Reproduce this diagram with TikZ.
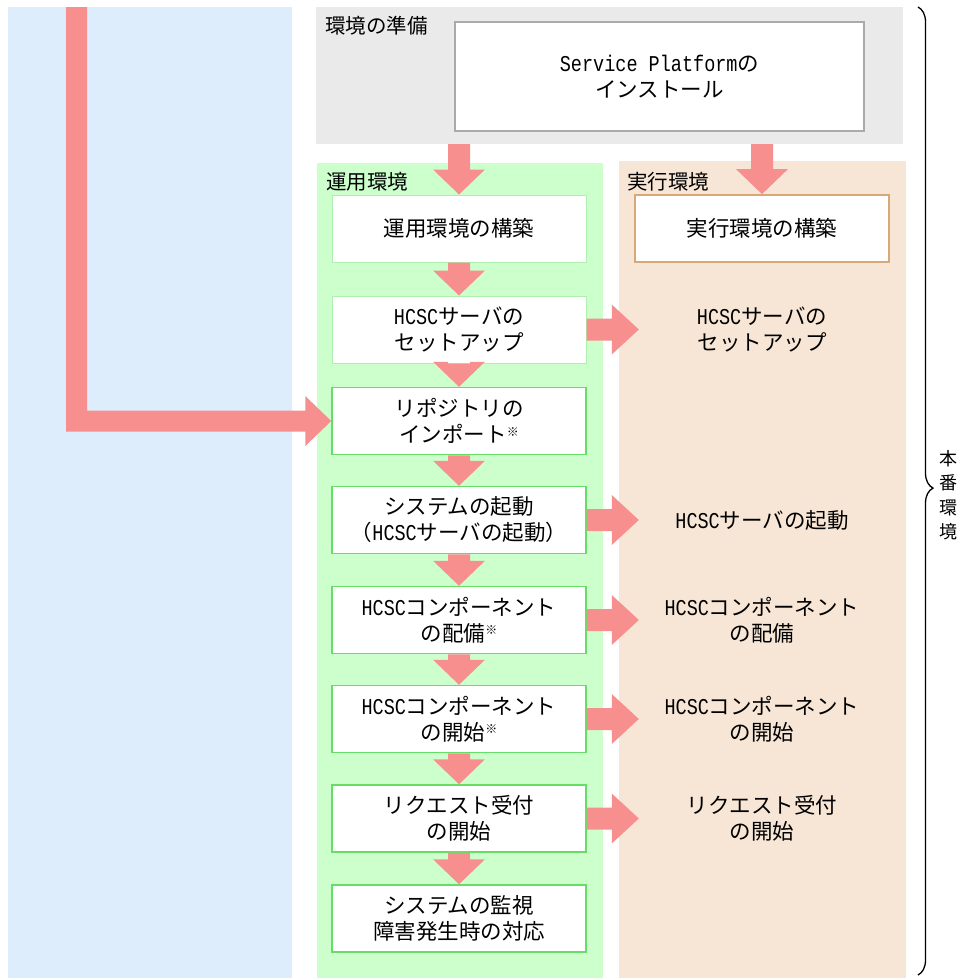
\documentclass[tikz,border=0pt]{standalone}
\usepackage{fontspec}
\setmainfont{Noto Sans CJK JP}
\newfontfamily\hw[FakeStretch=0.82,Scale=1.05]{Liberation Mono}
\usetikzlibrary{calc,decorations.pathreplacing}
\definecolor{bluebg}{HTML}{DDEDFC}
\definecolor{graybg}{HTML}{EAEAEA}
\definecolor{greenbg}{HTML}{CCFFCC}
\definecolor{peachbg}{HTML}{F7E6D5}
\definecolor{arrcol}{HTML}{F78F8F}
\definecolor{gline}{HTML}{66DD66}
\definecolor{glight}{HTML}{AEEEAE}
\definecolor{grayline}{HTML}{AAAAAA}
\definecolor{brline}{HTML}{D8A878}
\newcommand\kome{\raisebox{0.55ex}{\fontsize{12}{12}\selectfont ※}}
\newcommand\darr[2]{\fill[arr] let \p1=(#1), \p2=(#2) in
  (\x2-11pt,\y1) -- (\x2+11pt,\y1) -- (\x2+11pt,\y2+25pt) -- (\x2+26pt,\y2+25pt)
  -- (\x2,\y2) -- (\x2-26pt,\y2+25pt) -- (\x2-11pt,\y2+25pt) -- cycle;}
\newcommand\rarr[2]{\fill[arr] let \p1=(#1), \p2=(#2) in
  (\x1,\y1+11pt) -- (\x2-27pt,\y1+11pt) -- (\x2-27pt,\y1+25pt) -- (\x2,\y1)
  -- (\x2-27pt,\y1-25pt) -- (\x2-27pt,\y1-11pt) -- (\x1,\y1-11pt) -- cycle;}
\begin{document}
\begin{tikzpicture}[x=1pt,y=-1pt,
  panel/.style={inner sep=0pt,outer sep=0pt,anchor=north west},
  arr/.style={fill=arrcol},
  txt/.style={align=center,font=\fontsize{21.5}{26}\selectfont},
  lbl/.style={anchor=west,inner sep=0pt,font=\fontsize{20.5}{24}\selectfont},
  gbox/.style={txt,draw=gline,line width=1.5pt,fill=white,minimum width=254pt,minimum height=67pt,inner sep=0pt},
  lgbox/.style={gbox,draw=glight,line width=1pt},
  rtxt/.style={txt,minimum width=246pt,inner sep=0pt}]
\useasboundingbox (0,0) rectangle (967,978);
% panels
\node[panel,fill=bluebg,minimum width=284pt,minimum height=971pt] (bluep) at (8,7) {};
\node[panel,fill=graybg,minimum width=587pt,minimum height=137pt] (prep) at (316,7) {};
\node[panel,fill=greenbg,minimum width=286pt,minimum height=815pt] (ops) at (317,163) {};
\node[panel,fill=peachbg,minimum width=287pt,minimum height=817pt] (exe) at (619,161) {};
% labels
\node[lbl] (lprep) at (325,26) {環境の準備};
\node[lbl] (lops) at (326,182) {運用環境};
\node[lbl] (lexe) at (627,182) {実行環境};
% install box
\node[txt,draw=grayline,line width=1.5pt,fill=white,minimum width=409pt,minimum height=109pt,inner sep=0pt] (inst) at (659.5,76.5) {{\hw Service Platform}の\\インストール};
% green boxes
\node[lgbox] (b1) at (459,228.5) {運用環境の構築};
\node[lgbox] (b2) at (459,329.5) {{\hw HCSC}サーバの\\セットアップ};
\node[gbox] (b3) at (459,421) {リポジトリの\\インポート\kome};
\node[gbox] (b4) at (459,520) {システムの起動\\（{\hw HCSC}サーバの起動）};
\node[gbox] (b5) at (459,620) {{\hw HCSC}コンポーネント\\の配備\kome};
\node[gbox] (b6) at (459,719) {{\hw HCSC}コンポーネント\\の開始\kome};
\node[gbox] (b7) at (459,818.5) {リクエスト受付\\の開始};
\node[gbox] (b8) at (459,918.5) {システムの監視\\障害発生時の対応};
% exec side
\node[txt,draw=brline,line width=1.8pt,fill=white,minimum width=254pt,minimum height=67pt,inner sep=0pt] (x1) at (762,228.5) {実行環境の構築};
\node[rtxt] (r2) at (762,329.5) {{\hw HCSC}サーバの\\セットアップ};
\node[rtxt] (r4) at (762,520) {{\hw HCSC}サーバの起動};
\node[rtxt] (r5) at (762,620) {{\hw HCSC}コンポーネント\\の配備};
\node[rtxt] (r6) at (762,719) {{\hw HCSC}コンポーネント\\の開始};
\node[rtxt] (r7) at (762,818.5) {リクエスト受付\\の開始};
% down arrows
\darr{prep.south}{b1.north}
\darr{prep.south}{x1.north}
\darr{b1.south}{b2.north}
\darr{b2.south}{b3.north}
\darr{b3.south}{b4.north}
\darr{b4.south}{b5.north}
\darr{b5.south}{b6.north}
\darr{b6.south}{b7.north}
\darr{b7.south}{b8.north}
% right arrows
\rarr{b2.east}{r2.west}
\rarr{b4.east}{r4.west}
\rarr{b5.east}{r5.west}
\rarr{b6.east}{r6.west}
\rarr{b7.east}{r7.west}
% L arrow
\coordinate (lstart) at (76.5,7);
\fill[arr] let \p1=(lstart), \p2=(b3.west) in
  (\x1-10.5pt,\y1) -- (\x1+10.5pt,\y1) -- (\x1+10.5pt,\y2+10.5pt) -- (\x2-26pt,\y2+10.5pt)
  -- (\x2-26pt,\y2+25pt) -- (\x2,\y2) -- (\x2-26pt,\y2-25pt) -- (\x2-26pt,\y2-10.5pt)
  -- (\x1-10.5pt,\y2-10.5pt) -- cycle;
% brace
\coordinate (btop) at (918,7);
\coordinate (bbot) at (918,975);
\draw[line width=1.3pt,decorate,decoration={brace,amplitude=15pt,aspect=0.497}] (btop) -- (bbot);
\node[align=center,font=\fontsize{18}{24.5}\selectfont,inner sep=0pt] (prod) at (948,495) {本\\番\\環\\境};
\end{tikzpicture}
\end{document}
